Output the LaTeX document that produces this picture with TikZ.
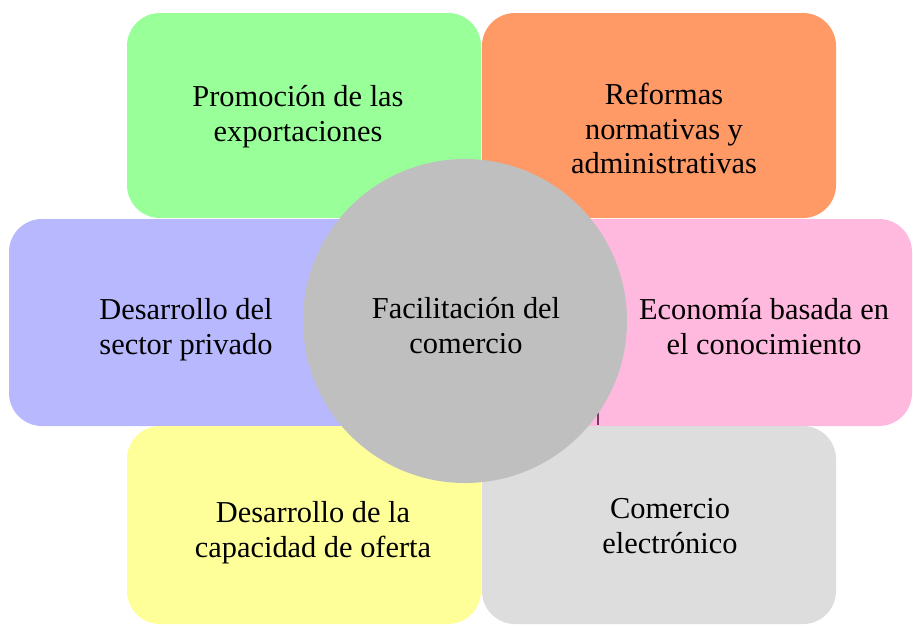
\documentclass[tikz,border=0pt]{standalone}
\usepackage{fontspec}
\setmainfont{Liberation Serif}
\definecolor{cgreen}{RGB}{153,255,153}
\definecolor{corange}{RGB}{255,153,102}
\definecolor{cblue}{RGB}{184,184,255}
\definecolor{cpink}{RGB}{255,184,222}
\definecolor{cyellow}{RGB}{255,255,153}
\definecolor{cgray}{RGB}{221,221,221}
\definecolor{ccircle}{RGB}{191,191,191}
\definecolor{cedge}{RGB}{120,60,100}
\begin{document}
\begin{tikzpicture}[x=1pt,y=-1pt,
  box/.style={rectangle, rounded corners=33pt, inner sep=0pt, outer sep=0pt},
  lbl/.style={font=\fontsize{30.4}{34.5}\selectfont, align=center, anchor=base, inner sep=0pt}]
\useasboundingbox (0,0) rectangle (913,625);
\fill[white] (0,0) rectangle (913,625);
% boxes
\node[box, fill=cgreen,  minimum width=354pt, minimum height=205pt] (green)  at (304,115.5) {};
\node[box, fill=corange, minimum width=354pt, minimum height=205pt] (orange) at (659,115.5) {};
\node[box, fill=cblue,   minimum width=391pt, minimum height=207pt] (blue)   at (204.5,322.5) {};
\node[box, fill=cpink,   minimum width=352pt, minimum height=207pt] (pink)   at (736,322.5) {};
\node[box, fill=cyellow, minimum width=354pt, minimum height=198pt] (yellow) at (304,525) {};
\node[box, fill=cgray,   minimum width=354pt, minimum height=198pt] (gray)   at (659,525) {};
\draw[cedge, line width=1.2pt] (598,395) -- (598,425);
% centre
\node[circle, fill=ccircle, minimum size=324pt, inner sep=0pt] (hub) at (465,321) {};
% labels (anchored at the baseline of the last line)
\node[lbl] (tgreen)  at (298,141) {Promoción de las\\exportaciones};
\node[lbl] (torange) at (664,173.5) {Reformas\\normativas y\\administrativas};
\node[lbl] (tblue)   at (186,354) {Desarrollo del\\sector privado};
\node[lbl] (thub)    at (466,353) {Facilitación del\\comercio};
\node[lbl] (tpink)   at (764,354) {Economía basada en\\el conocimiento};
\node[lbl] (tyellow) at (313,557) {Desarrollo de la\\capacidad de oferta};
\node[lbl] (tgray)   at (670,553) {Comercio\\electrónico};
\end{tikzpicture}
\end{document}
